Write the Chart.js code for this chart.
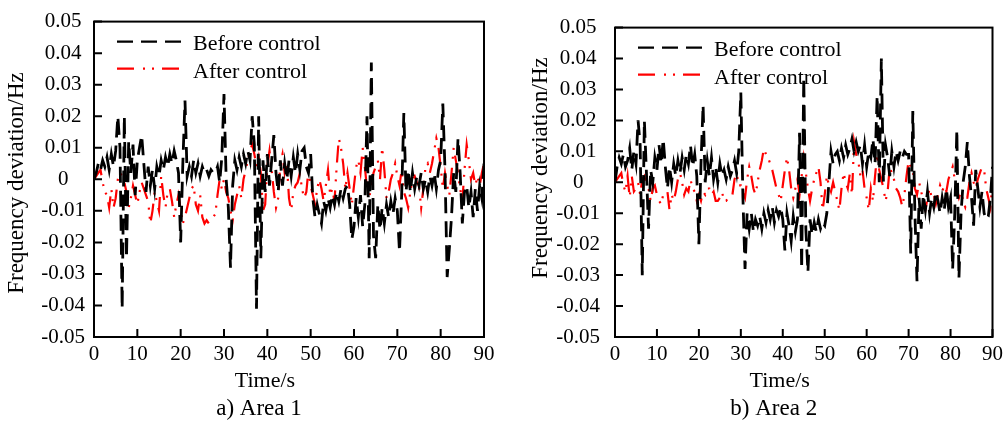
<!DOCTYPE html>
<html>
<head>
<meta charset="utf-8">
<script src="https://cdn.jsdelivr.net/npm/chart.js@4.4.1/dist/chart.umd.min.js"></script>
<style>
  body { margin: 0; background: #fff; }
  .panel { position: absolute; top: 0; height: 421px; }
</style>
</head>
<body>
<div class="panel" style="left:0;width:500px"><canvas id="area1" width="500" height="421"></canvas></div>
<div class="panel" style="left:500px;width:508px"><canvas id="area2" width="508" height="421"></canvas></div>
<script>
const xTicks = [0, 10, 20, 30, 40, 50, 60, 70, 80, 90];
const yTicks = [-0.05, -0.04, -0.03, -0.02, -0.01, 0, 0.01, 0.02, 0.03, 0.04, 0.05];
const seriesNames = ['Before control', 'After control'];
const sampleStep = 0.5; // seconds between samples

// values every 0.5 s, one row = 5 s
const area1Before = [
  0, 0.002, 0.005, 0.003, 0.006, 0.004, 0.007, 0.003, 0.008, 0.004,
  0.009, 0.02, 0.01, -0.041, 0.02, -0.025, 0.012, 0.002, 0.011, -0.005,
  0.006, 0.01, 0.014, 0.005, -0.004, 0.004, -0.002, 0.003, -0.003, 0.004,
  0.001, 0.006, 0.003, 0.007, 0.004, 0.008, 0.005, 0.009, 0.006, 0.002,
  -0.02, 0.005, 0.025, 0.001, 0.004, 0.001, 0.006, 0.002, 0.005, 0.001,
  0.004, 0.002, 0.003, 0.001, 0.003, 0.002, 0.002, 0.004, -0.001, 0.007,
  0.027, 0.0, -0.009, -0.028, -0.002, 0.006, 0.003, 0.007, 0.004, 0.008,
  0.005, 0.009, 0.006, 0.02, 0.011, -0.041, 0.02, -0.025, 0.006, -0.004,
  0.008, -0.002, 0.006, 0.014, 0.002, -0.004, 0.006, -0.002, 0.005, 0.0,
  0.006, 0.001, 0.007, 0.002, 0.008, 0.003, 0.009, 0.01, 0.004, 0.002,
  0.008, -0.006, -0.012, -0.008, -0.011, -0.014, -0.007, -0.01, -0.006, -0.009,
  -0.005, -0.008, -0.004, -0.007, -0.003, -0.006, -0.003, -0.002, -0.008, -0.019,
  -0.015, -0.006, -0.012, -0.005, -0.015, -0.008, 0.02, -0.025, 0.037, -0.018,
  -0.025, -0.008, -0.016, -0.009, -0.014, -0.008, -0.012, -0.007, -0.011, -0.006,
  -0.01, -0.023, -0.005, 0.021, -0.004, 0.003, -0.004, 0.002, -0.003, 0.001,
  -0.002, 0.002, -0.003, 0.0, -0.004, 0.001, -0.002, 0.002, -0.003, 0.003,
  0.006, 0.024, 0.003, -0.031, -0.022, -0.012, 0.002, -0.004, 0.013, 0.002,
  -0.014, -0.004, -0.002, -0.009, -0.004, -0.012, -0.003, -0.01, -0.002, -0.006,
  0.005
];
const area1After = [
  0, 0.001, 0.002, 0.003, -0.001, -0.004, -0.005, -0.009, -0.003, -0.009,
  -0.006, 0.0, 0.002, 0.001, -0.001, -0.004, -0.009, -0.006, -0.002, -0.005,
  -0.008, -0.004, -0.001, -0.003, -0.005, -0.007, -0.014, -0.01, -0.004, -0.007,
  -0.01, 0.001, -0.005, -0.009, -0.004, -0.003, -0.007, -0.012, -0.008, -0.005,
  -0.01, -0.014, -0.012, -0.009, -0.006, -0.003, -0.002, -0.008, -0.01, -0.005,
  -0.012, -0.014, -0.013, -0.014, -0.013, -0.012, -0.011, -0.005, 0.0, -0.003,
  0.0, -0.004, -0.006, -0.01, -0.013, -0.008, -0.005, -0.002, -0.006, 0.0,
  0.003, 0.006, 0.009, 0.011, 0.008, 0.004, 0.007, 0.002, -0.01, -0.008,
  0.004, 0.009, 0.003, -0.004, -0.009, -0.006, 0.005, 0.008, 0.002, 0.005,
  -0.006, -0.01, -0.004, -0.002, -0.001, 0.002, -0.003, -0.006, -0.004, 0.003,
  -0.002, -0.005, -0.008, -0.003, 0.0, -0.003, -0.007, -0.002, 0.003, -0.005,
  -0.003, -0.007, 0.004, 0.013, 0.01, 0.005, -0.003, 0.002, -0.003, -0.008,
  -0.002, 0.004, 0.006, 0.002, 0.01, 0.004, -0.003, -0.006, -0.002, 0.002,
  0.004, 0.006, 0.0, 0.01, 0.003, -0.006, -0.004, 0.0, 0.002, 0.005,
  0.001, -0.002, 0.003, -0.004, -0.006, -0.009, -0.004, 0.0, 0.001, -0.001,
  -0.002, -0.009, -0.003, 0.004, 0.005, 0.002, 0.005, 0.009, 0.013, 0.01,
  0.004, -0.003, 0.002, -0.002, -0.005, 0.002, 0.01, 0.006, 0.002, -0.003,
  -0.007, 0.003, 0.011, 0.006, 0.0, 0.002, -0.002, 0.001, -0.002, 0.002,
  0.005
];
const area2Before = [
  0.0, 0.005, 0.008, 0.006, 0.009, 0.005, 0.007, 0.011, 0.004, 0.01,
  0.006, 0.02, 0.012, -0.03, 0.02, 0.003, -0.015, 0.004, 0.0, 0.008,
  0.004, 0.012, 0.006, 0.014, 0.005, -0.002, 0.005, 0.0, 0.006, 0.002,
  0.007, 0.003, 0.008, 0.004, 0.009, 0.006, 0.012, 0.005, 0.009, 0.002,
  -0.02, 0.006, 0.025, 0.0, 0.007, 0.002, 0.008, 0.001, 0.005, 0.0,
  0.006, 0.002, 0.004, 0.001, 0.005, 0.002, 0.004, 0.007, 0.003, 0.01,
  0.029, -0.005, -0.028, -0.01, -0.015, -0.01, -0.016, -0.012, -0.014, -0.011,
  -0.015, -0.01, -0.013, -0.009, -0.012, -0.008, -0.013, -0.009, -0.011, -0.008,
  -0.012, -0.022, -0.01, -0.014, -0.019, -0.011, -0.016, -0.012, 0.016, -0.028,
  0.034, -0.015, -0.029, -0.012, -0.017, -0.013, -0.016, -0.012, -0.015, -0.013,
  -0.014, -0.01, 0.0, 0.01, 0.006, 0.009, 0.01, 0.007, 0.011, 0.008,
  0.012, 0.009, 0.011, 0.014, 0.01, 0.013, 0.01, 0.012, 0.006, 0.012,
  0.005, 0.01, 0.008, 0.014, 0.006, 0.028, 0.0, 0.04, 0.0, 0.012,
  0.008, 0.002, 0.01, 0.005, 0.01, 0.007, 0.01, 0.008, 0.01, 0.009,
  0.009, -0.023, 0.023, -0.01, -0.032, -0.005, -0.015, -0.004, -0.009, -0.003,
  -0.01, -0.005, -0.008, -0.003, -0.006, -0.01, -0.005, -0.009, -0.002, -0.008,
  -0.005, -0.028, -0.01, 0.017, -0.031, -0.01, 0.0, 0.005, 0.013, 0.002,
  -0.005, -0.014, 0.004, -0.002, -0.008, -0.003, -0.01, -0.012, -0.011, -0.005,
  0.005
];
const area2After = [
  0.0, 0.001, 0.002, 0.003, -0.001, -0.003, 0.002, -0.005, 0.002, -0.003,
  -0.002, 0.0, -0.004, 0.001, 0.002, -0.001, -0.002, -0.006, -0.002, -0.001,
  -0.004, -0.006, -0.007, -0.004, -0.003, -0.003, -0.009, -0.004, -0.006, -0.003,
  0.001, 0.003, 0.0, -0.004, -0.002, -0.003, 0.001, -0.002, -0.003, -0.006,
  -0.004, -0.006, -0.003, -0.004, -0.002, -0.002, -0.004, -0.003, -0.006, -0.006,
  -0.005, -0.003, -0.006, -0.006, -0.005, -0.005, -0.004, 0.001, 0.003, -0.001,
  -0.001, -0.003, -0.005, 0.001, 0.005, 0.002, -0.002, -0.004, 0.0, 0.004,
  0.007, 0.011, 0.009, 0.008, 0.006, 0.004, 0.001, -0.002, -0.004, -0.006,
  -0.001, 0.004, 0.008, 0.004, -0.002, -0.005, -0.002, 0.001, -0.004, 0.002,
  0.008, 0.003, -0.002, -0.006, -0.002, 0.001, 0.003, 0.005, 0.0, -0.009,
  -0.004, 0.002, -0.001, -0.003, 0.0, -0.003, -0.006, -0.009, -0.002, 0.003,
  0.0, -0.002, 0.003, -0.004, 0.013, 0.009, 0.007, 0.002, 0.004, -0.002,
  -0.005, -0.009, -0.002, -0.006, 0.002, 0.009, 0.004, 0.001, -0.002, -0.006,
  -0.003, 0.005, 0.003, 0.001, -0.002, -0.003, -0.005, -0.008, -0.004, 0.002,
  0.007, 0.005, 0.004, -0.002, -0.004, 0.0, -0.003, -0.006, -0.009, -0.005,
  -0.002, -0.005, -0.004, -0.007, -0.004, -0.001, -0.003, -0.001, -0.003, 0.001,
  0.003, 0.005, 0.001, -0.002, -0.005, -0.003, -0.006, -0.008, -0.005, 0.0,
  0.003, 0.0, -0.002, 0.001, 0.003, 0.005, 0.004, -0.002, -0.005, -0.008,
  0.0
];

const serif = "'Liberation Serif', 'Times New Roman', serif";

function points(values) {
  return values.map((v, i) => ({ x: i * sampleStep, y: v }));
}

// frame, inward ticks, axis titles, caption and the legend inside the plot
const decor = {
  id: 'decor',
  afterDraw(chart, args, o) {
    const { ctx, chartArea: a, scales: { x, y } } = chart;
    ctx.save();
    ctx.strokeStyle = '#000';
    ctx.lineWidth = 2;
    ctx.strokeRect(a.left, a.top, a.right - a.left, a.bottom - a.top);
    ctx.beginPath();
    y.ticks.forEach(t => {
      const py = y.getPixelForValue(t.value);
      ctx.moveTo(a.left, py);
      ctx.lineTo(a.left + o.tick, py);
    });
    x.ticks.forEach(t => {
      const px = x.getPixelForValue(t.value);
      ctx.moveTo(px, a.bottom);
      ctx.lineTo(px, a.bottom - o.tick);
    });
    ctx.stroke();

    ctx.fillStyle = '#000';
    ctx.textAlign = 'center';
    ctx.textBaseline = 'alphabetic';
    const cx = (a.left + a.right) / 2;
    ctx.font = '22px ' + serif;
    ctx.fillText('Time/s', cx - 24, 387);
    ctx.font = '23px ' + serif;
    ctx.fillText(o.caption, cx - 30, 415);

    ctx.save();
    ctx.translate(o.yTitleX, o.yTitleY);
    ctx.rotate(-Math.PI / 2);
    ctx.textBaseline = 'middle';
    ctx.fillText('Frequency deviation/Hz', 0, 0);
    ctx.restore();

    ctx.font = '22px ' + serif;
    ctx.textAlign = 'left';
    chart.data.datasets.forEach((ds, i) => {
      const ly = a.top + 20 + i * 27;
      ctx.beginPath();
      ctx.setLineDash(ds.borderDash);
      ctx.strokeStyle = ds.borderColor;
      ctx.lineWidth = ds.legendWidth;
      ctx.moveTo(a.left + 23, ly);
      ctx.lineTo(a.left + 88, ly);
      ctx.stroke();
      ctx.setLineDash([]);
      ctx.fillText(ds.label, a.left + 99, ly + 8 + i);
    });
    ctx.restore();
  }
};

function makeChart(id, before, after, cfg) {
  return new Chart(document.getElementById(id), {
    type: 'line',
    data: {
      datasets: [
        { label: seriesNames[0], data: points(before), borderColor: '#000000', borderWidth: 2.8,
          legendWidth: 2.2, borderDash: [16, 8], pointRadius: 0, tension: 0 },
        { label: seriesNames[1], data: points(after), borderColor: '#ff0000', borderWidth: 2.2,
          legendWidth: 2.2, borderDash: [17, 9, 2, 7, 2, 8], pointRadius: 0, tension: 0 }
      ]
    },
    options: {
      responsive: false,
      animation: false,
      layout: { padding: { top: 10, right: cfg.padRight, bottom: 0, left: 0 } },
      plugins: {
        legend: { display: false },
        tooltip: { enabled: false },
        decor: cfg
      },
      scales: {
        x: {
          type: 'linear', min: 0, max: 90,
          afterBuildTicks: s => { s.ticks = xTicks.map(v => ({ value: v })); },
          afterFit: s => { s.height = 84; },
          grid: { display: false, drawTicks: false },
          border: { display: false },
          ticks: { padding: 5, autoSkip: false, maxRotation: 0, color: '#000',
                   font: { family: serif, size: 21 } }
        },
        y: {
          type: 'linear', min: -0.05, max: 0.05,
          afterBuildTicks: s => { s.ticks = yTicks.map(v => ({ value: v })); },
          afterFit: s => { s.width = cfg.axisWidth; },
          grid: { display: false, drawTicks: false },
          border: { display: false },
          ticks: { padding: cfg.tickPad, crossAlign: 'center', color: '#000',
                   font: { family: serif, size: 21 },
                   callback: v => v === 0 ? '0' : v.toFixed(2) }
        }
      }
    },
    plugins: [decor]
  });
}

makeChart('area1', area1Before, area1After,
  { caption: 'a) Area 1', axisWidth: 94, padRight: 16, tickPad: 9, tick: 8, yTitleX: 17, yTitleY: 183 });
makeChart('area2', area2Before, area2After,
  { caption: 'b) Area 2', axisWidth: 115, padRight: 11, tickPad: 15, tick: 8, yTitleX: 41, yTitleY: 168 });
</script>
</body>
</html>
